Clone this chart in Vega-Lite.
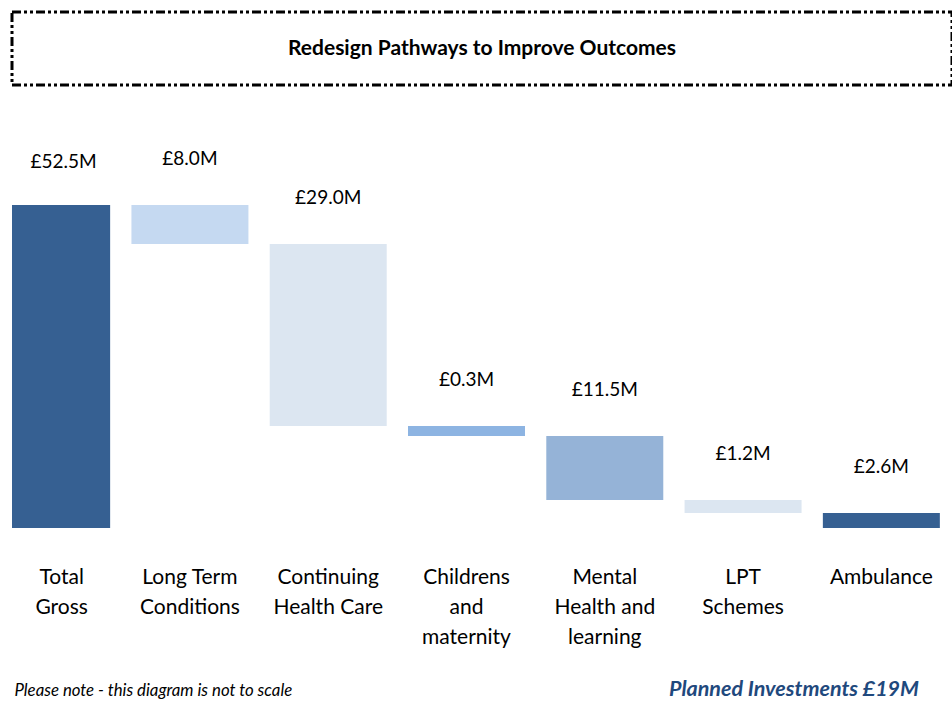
{
  "$schema": "https://vega.github.io/schema/vega-lite/v6.json",
  "padding": {"left": 10, "top": 10, "right": 0, "bottom": 0},
  "background": "white",
  "config": {"font": "Lato", "view": {"stroke": null}},
  "spacing": 13,
  "title": {"text": "Planned Investments £19M", "orient": "bottom", "anchor": "end", "font": "Lato", "fontSize": 21.5, "fontStyle": "italic", "fontWeight": "bold", "color": "#1F497D", "dx": -61, "dy": -24},
  "datasets": {
    "bars": [
      {"category": "Total Gross", "start": 0, "end": 323, "value": 52.5},
      {"category": "Long Term Conditions", "start": 284, "end": 323, "value": 8.0},
      {"category": "Continuing Health Care", "start": 102, "end": 284, "value": 29.0},
      {"category": "Childrens and maternity", "start": 92, "end": 102, "value": 0.3},
      {"category": "Mental Health and learning", "start": 28, "end": 92, "value": 11.5},
      {"category": "LPT Schemes", "start": 15, "end": 28, "value": 1.2},
      {"category": "Ambulance", "start": 0, "end": 15, "value": 2.6}
    ]
  },
  "vconcat": [
    {
      "width": 940,
      "height": 73,
      "view": {"stroke": "black", "strokeWidth": 3, "strokeDash": [9, 3, 3, 3, 3, 3]},
      "data": {"values": [{"t": "Redesign Pathways to Improve Outcomes"}]},
      "mark": {"type": "text", "fontWeight": "bold", "fontSize": 21, "font": "Lato", "color": "black"},
      "encoding": {"text": {"field": "t"}}
    },
    {
      "width": 940,
      "height": 428,
      "data": {"name": "bars"},
      "transform": [{"calculate": "'£' + format(datum.value, '.1f') + 'M'", "as": "label"}],
      "encoding": {
        "x": {
          "field": "category",
          "type": "nominal",
          "sort": null,
          "scale": {"range": [-29.5, 938.5], "paddingInner": 0.154, "paddingOuter": 0.077},
          "axis": {
            "title": "Please note - this diagram is not to scale",
            "titleAnchor": "start",
            "titleX": 2,
            "titleY": 162,
            "titleBaseline": "middle",
            "titleFont": "Lato",
            "titleFontStyle": "italic",
            "titleFontWeight": "normal",
            "titleFontSize": 16.8,
            "titleColor": "black",
            "domain": false,
            "ticks": false,
            "labelFont": "Lato",
            "labelFontSize": 21,
            "labelColor": "black",
            "labelPadding": 38,
            "labelLineHeight": 30,
            "labelAngle": 0,
            "labelBaseline": "top",
            "labelOffset": {"condition": {"test": "datum.value === 'Total Gross'", "value": 10}, "value": 0},
            "labelExpr": "datum.value == 'Total Gross' ? ['Total', 'Gross'] : datum.value == 'Long Term Conditions' ? ['Long Term', 'Conditions'] : datum.value == 'Continuing Health Care' ? ['Continuing', 'Health Care'] : datum.value == 'Childrens and maternity' ? ['Childrens', 'and', 'maternity'] : datum.value == 'Mental Health and learning' ? ['Mental', 'Health and', 'learning'] : datum.value == 'LPT Schemes' ? ['LPT', 'Schemes'] : datum.value"
          }
        }
      },
      "layer": [
        {
          "mark": {"type": "bar", "clip": true},
          "encoding": {
            "y": {"field": "start", "type": "quantitative", "scale": {"domain": [0, 428], "nice": false, "zero": true}, "axis": null},
            "y2": {"field": "end"},
            "color": {
              "field": "category",
              "type": "nominal",
              "sort": null,
              "scale": {
                "domain": ["Total Gross", "Long Term Conditions", "Continuing Health Care", "Childrens and maternity", "Mental Health and learning", "LPT Schemes", "Ambulance"],
                "range": ["#366092", "#C5D9F1", "#DCE6F1", "#8DB4E2", "#95B3D7", "#DCE6F1", "#366092"]
              },
              "legend": null
            }
          }
        },
        {
          "transform": [{"filter": "datum.category != 'Total Gross'"}],
          "mark": {"type": "text", "fontSize": 19, "font": "Lato", "color": "black", "baseline": "middle", "dy": -46},
          "encoding": {
            "y": {"field": "end", "type": "quantitative"},
            "text": {"field": "label"}
          }
        },
        {
          "transform": [{"filter": "datum.category == 'Total Gross'"}],
          "mark": {"type": "text", "fontSize": 19, "font": "Lato", "color": "black", "baseline": "middle", "dy": -43, "dx": 12},
          "encoding": {
            "y": {"field": "end", "type": "quantitative"},
            "text": {"field": "label"}
          }
        }
      ]
    }
  ]
}
